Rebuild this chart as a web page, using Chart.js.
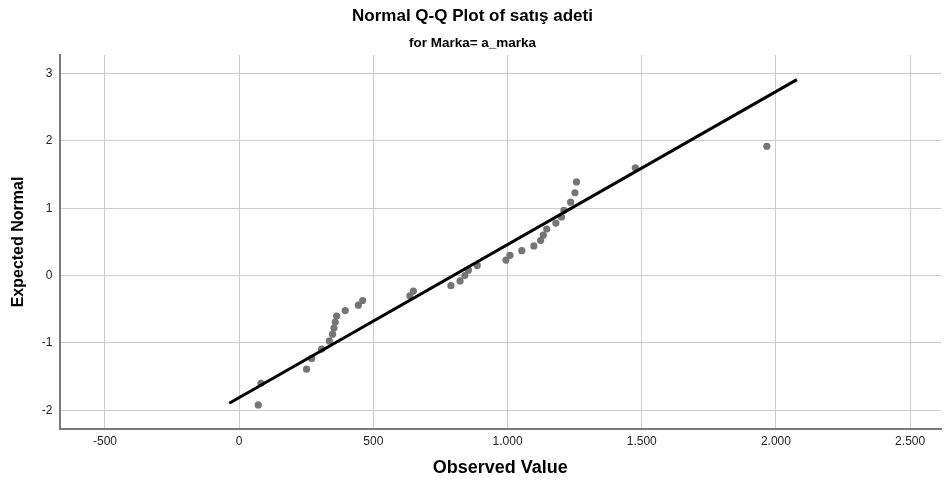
<!DOCTYPE html>
<html>
<head>
<meta charset="utf-8">
<script src="https://cdn.jsdelivr.net/npm/chart.js@4.4.1/dist/chart.umd.min.js"></script>
<style>
  html, body { margin: 0; padding: 0; background: #fff; }
  #wrap { width: 945px; height: 484px; }
</style>
</head>
<body>
<div id="wrap"><canvas id="qq" width="945" height="484"></canvas></div>
<script>
const observed = [71, 81, 251, 270, 307, 336, 348, 353, 358, 363, 395, 444, 460, 636, 649,
  789, 823, 841, 854, 887, 994, 1009, 1053, 1098, 1123, 1133, 1146, 1180, 1201, 1210,
  1235, 1251, 1257, 1476, 1966];
const expected = [-1.92, -1.60, -1.39, -1.23, -1.09, -0.97, -0.87, -0.78, -0.69, -0.60,
  -0.52, -0.44, -0.37, -0.30, -0.23, -0.15, -0.08, 0.00, 0.08, 0.15, 0.23, 0.30, 0.37,
  0.44, 0.52, 0.60, 0.69, 0.78, 0.87, 0.97, 1.09, 1.23, 1.39, 1.60, 1.92];
// reference line end points
const lineX = [-37, 2078];
const lineY = [-1.895, 2.91];
// tick values
const xTicks = [-500, 0, 500, 1000, 1500, 2000, 2500];
const yTicks = [-2, -1, 0, 1, 2, 3];

const points = observed.map((v, i) => ({ x: v, y: expected[i] }));
const fit = lineX.map((v, i) => ({ x: v, y: lineY[i] }));

const font = 'Liberation Sans, Arial, sans-serif';

new Chart(document.getElementById('qq'), {
  type: 'scatter',
  data: {
    datasets: [
      {
        label: 'fit',
        data: fit,
        showLine: true,
        borderColor: '#000',
        borderWidth: 3,
        pointRadius: 0,
        fill: false
      },
      {
        label: 'Observed',
        data: points,
        backgroundColor: '#757575',
        borderColor: '#757575',
        borderWidth: 0,
        pointRadius: 3.6
      }
    ]
  },
  options: {
    responsive: false,
    animation: false,
    locale: 'de-DE',
    layout: { padding: 0 },
    plugins: {
      legend: { display: false },
      tooltip: { enabled: false },
      title: {
        display: true,
        text: 'Normal Q-Q Plot of satış adeti',
        color: '#000',
        font: { family: font, size: 17, weight: 'bold', lineHeight: 1.2 },
        padding: { top: 5.8, bottom: 0 }
      },
      subtitle: {
        display: true,
        text: 'for Marka= a_marka',
        color: '#000',
        font: { family: font, size: 13.5, weight: 'bold', lineHeight: 1.2 },
        padding: { top: 8.7, bottom: 3.9 }
      }
    },
    scales: {
      x: {
        type: 'linear',
        min: -669.5,
        max: 2615,
        afterBuildTicks: s => { s.ticks = xTicks.map(v => ({ value: v })); },
        afterFit: s => { s.height = 55; },
        ticks: {
          color: '#222',
          padding: 5,
          maxRotation: 0,
          autoSkip: false,
          font: { family: font, size: 12 }
        },
        grid: { color: '#cccccc', lineWidth: 1, drawTicks: false },
        border: { color: '#7a7a7a', width: 2 },
        title: {
          display: true,
          text: 'Observed Value',
          color: '#000',
          font: { family: font, size: 18, weight: 'bold', lineHeight: 1.2 },
          padding: { top: 0, bottom: 5.2 }
        }
      },
      y: {
        type: 'linear',
        min: -2.278,
        max: 3.275,
        afterBuildTicks: s => { s.ticks = yTicks.map(v => ({ value: v })); },
        afterFit: s => { s.width = 59.5; },
        ticks: {
          color: '#222',
          padding: 7,
          autoSkip: false,
          font: { family: font, size: 12 }
        },
        grid: { color: '#cccccc', lineWidth: 1, drawTicks: false },
        border: { color: '#7a7a7a', width: 2 },
        title: {
          display: true,
          text: 'Expected Normal',
          color: '#000',
          font: { family: font, size: 16, weight: 'bold', lineHeight: 1.2 },
          padding: { top: 9, bottom: 0 }
        }
      }
    }
  }
});
</script>
</body>
</html>
